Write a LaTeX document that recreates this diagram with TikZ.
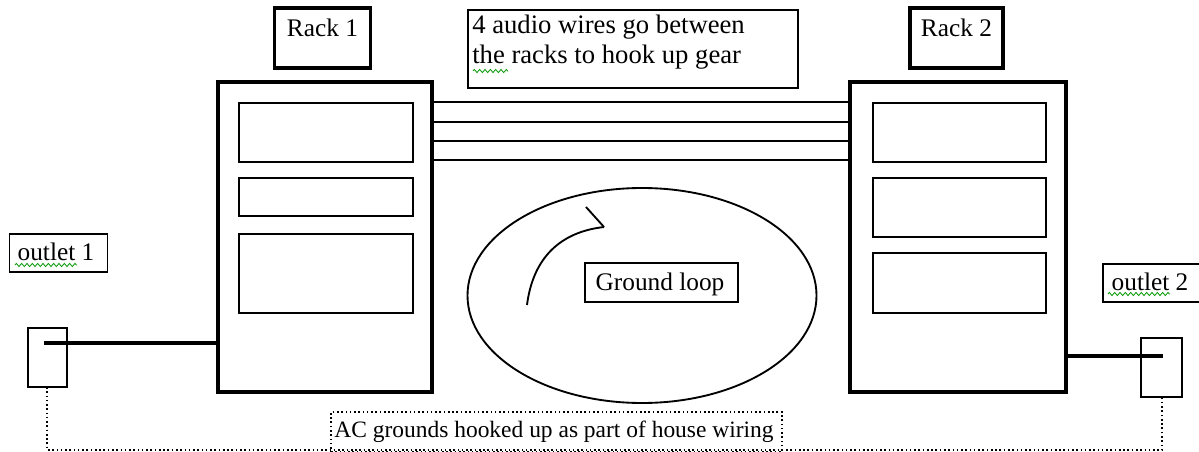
\documentclass[tikz,border=0pt]{standalone}
\usepackage{fontspec}
\setmainfont{Liberation Serif}
\usetikzlibrary{decorations.pathmorphing,shapes.geometric}
\begin{document}
\begin{tikzpicture}[x=0.75pt,y=-0.75pt,
  sz/.style 2 args={minimum width=#1*0.75pt, minimum height=#2*0.75pt, inner sep=0pt, outer sep=0pt},
  rackbody/.style={draw, line width=3pt},
  slot/.style={draw, line width=1.5pt},
  labelbox/.style={draw, line width=2.4pt},
  thinbox/.style={draw, line width=1.1pt},
  txt/.style={font=\fontsize{19}{22.5}\selectfont, inner sep=0pt},
  wire/.style={line width=1.6pt},
  power/.style={line width=3pt},
  gnd/.style={line width=1.2pt, dotted},
  squiggle/.style={draw=green!60!black, line width=0.6pt, decorate, decoration={zigzag, segment length=4pt, amplitude=1.2pt}}
]
\useasboundingbox (0,0) rectangle (1199,452);
\fill[white] (0,0) rectangle (1199,452);

% racks
\node[rackbody, sz={214}{310}] (rack1) at (325,237) {};
\node[rackbody, sz={216}{310}] (rack2) at (958,237) {};
% rack 1 slots
\node[slot, sz={174}{59}] (r1a) at (326,132.5) {};
\node[slot, sz={174}{38}] (r1b) at (326,197) {};
\node[slot, sz={174}{79}] (r1c) at (326,273.5) {};
% rack 2 slots
\node[slot, sz={173}{59}] (r2a) at (959.5,132.5) {};
\node[slot, sz={173}{59}] (r2b) at (959.5,207.5) {};
\node[slot, sz={173}{60}] (r2c) at (959.5,283) {};

% rack labels
\node[labelbox, sz={96}{60}] (lab1) at (322.5,38) {};
\node[txt, anchor=north] (lab1t) at (lab1.north |- 0,19) {Rack 1};
\node[labelbox, sz={93}{60}] (lab2) at (956.5,38) {};
\node[txt, anchor=north] (lab2t) at (lab2.north |- 0,19) {Rack 2};

% audio wires
\foreach \yy in {102,122,141,160}
  \draw[wire] (rack1.east |- 0,\yy) -- (rack2.west |- 0,\yy);

% top text box
\node[thinbox, sz={330}{78}] (wirebox) at (633,49) {};
\node[txt, font=\fontsize{20}{22.5}\selectfont, anchor=north west, align=left] (wiretext) at (472,15) {4 audio wires go between\\the racks to hook up gear};
\draw[squiggle] (473,71) -- (508,71);

% ground loop
\node[draw, line width=1.4pt, ellipse, sz={349}{215}] (loop) at (642,295.5) {};
\node[thinbox, sz={153}{39}] (loopbox) at (661.5,282.5) {};
\node[txt] (looptext) at (660,284) {Ground loop};
\coordinate (arrS) at (527,305);
\coordinate (arrE) at (604,227);
\coordinate (arrB) at (586,207);
\draw[line width=1.4pt] (arrS) .. controls (533,258) and (560,232) .. (arrE);
\draw[line width=1.4pt] (arrE) -- (arrB);

% outlets
\node[thinbox, sz={98}{38}] (out1lab) at (58.5,253) {};
\node[txt] (out1t) at (56,252) {outlet 1};
\draw[squiggle] (15,265) -- (77,265);
\node[thinbox, sz={39}{59}] (out1) at (47.5,357.5) {};

\node[thinbox, sz={97}{38}] (out2lab) at (1151.5,283) {};
\node[txt] (out2t) at (1150,282) {outlet 2};
\draw[squiggle] (1108,294) -- (1170,294);
\node[thinbox, sz={41}{59}] (out2) at (1161.5,367.5) {};

% power cords
\coordinate (p1) at (44,343);
\coordinate (p2) at (1163,356);
\draw[power] (p1) -- (rack1.west |- p1);
\draw[power] (rack2.east |- p2) -- (p2);

% AC grounds
\coordinate (g1) at (47,450);
\coordinate (g2) at (1162,450);
\draw[gnd] (out1.south -| 47,0) -- (g1) -- (g2) -- (out2.south -| 1162,0);
\node[draw, dotted, line width=1.2pt, sz={451}{40}] (acbox) at (556.5,432) {};
\node[txt, font=\fontsize{17.6}{20}\selectfont] (actext) at (554,432) {AC grounds hooked up as part of house wiring};
\end{tikzpicture}
\end{document}
